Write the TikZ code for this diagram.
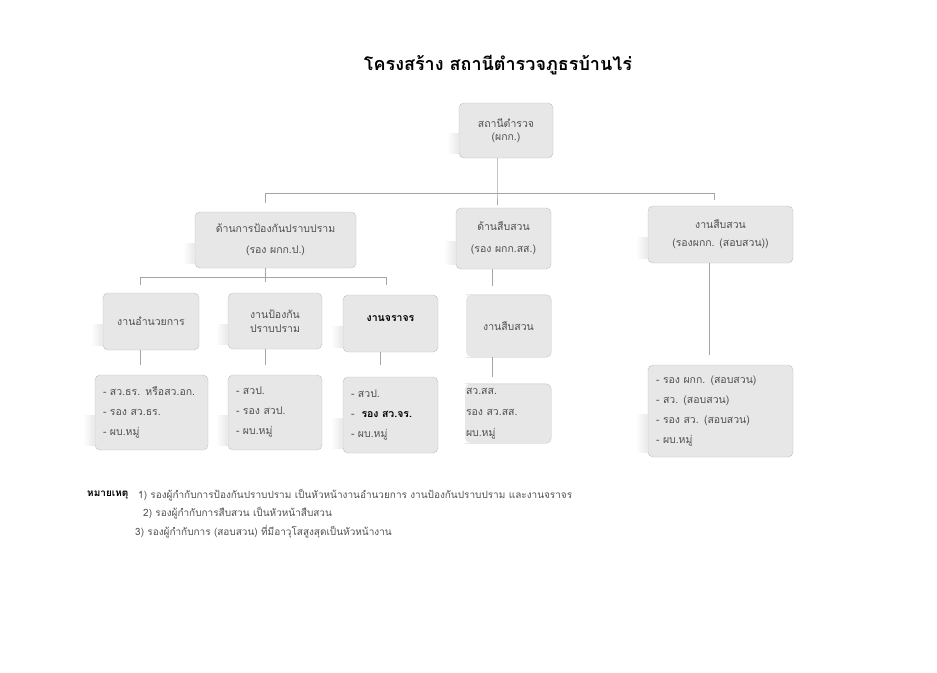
\documentclass[tikz,border=0pt]{standalone}
\usepackage{fontspec}
\setmainfont[Script=Thai]{Loma}
\definecolor{boxfill}{RGB}{231,231,231}
\definecolor{boxline}{RGB}{190,190,190}
\definecolor{linkline}{RGB}{165,165,165}
\definecolor{boxtext}{RGB}{80,80,80}
\definecolor{shadegray}{RGB}{232,232,232}
\tikzset{
  unitbox/.style={draw=boxline, fill=boxfill, rounded corners=5pt, align=center,
    text=boxtext, font=\fontsize{10.5}{13}\selectfont, inner sep=2pt},
  listbox/.style={unitbox, align=left, inner xsep=8pt},
  cutbox/.style={unitbox, draw=none},
  link/.style={draw=linkline, line width=0.9pt},
  notetext/.style={anchor=west, text=boxtext, font=\fontsize{10}{12}\selectfont, inner sep=0pt},
}
\newcommand{\leftshade}[1]{%
  \shade[left color=white, right color=shadegray]
    ([xshift=-12pt, yshift=5pt]#1.south west) rectangle ([yshift=-3pt]#1.west);}
\newcommand{\openedge}[1]{%
  \draw[boxline, rounded corners=5pt]
    (#1.north west) -- (#1.north east) -- (#1.south east) -- (#1.south west);}
\begin{document}
\begin{tikzpicture}[x=1pt, y=-1pt]
	\useasboundingbox (0,0) rectangle (937,672);

	% หัวเรื่อง
	\node (title) [font=\bfseries\fontsize{18}{21}\selectfont] at (498,65) {โครงสร้าง สถานีตำรวจภูธรบ้านไร่};

	% ชั้นที่ 1
	\node (root) [unitbox, minimum width=94, minimum height=55] at (506,130.5)
		{สถานีตำรวจ\\[0pt](ผกก.)};
	\leftshade{root}

	% ชั้นที่ 2
	\node (prevent) [unitbox, minimum width=161, minimum height=56] at (275.5,240)
		{ด้านการป้องกันปราบปราม\\[8pt](รอง ผกก.ป.)};
	\node (invest) [unitbox, minimum width=95, minimum height=61] at (503.5,238.5)
		{ด้านสืบสวน\\[9pt](รอง ผกก.สส.)};
	\node (inquiry) [unitbox, minimum width=145, minimum height=57] at (720.5,234.5)
		{งานสืบสวน\\[5pt](รองผกก. (สอบสวน))};
	\leftshade{prevent}
	\leftshade{invest}
	\leftshade{inquiry}

	% ชั้นที่ 3
	\node (admin) [unitbox, minimum width=96, minimum height=57] at (151,321.5) {งานอำนวยการ};
	\node (patrol) [unitbox, minimum width=94, minimum height=56] at (275,321)
		{งานป้องกัน\\[1pt]ปราบปราม};
	\node (traffic) [unitbox, minimum width=95, minimum height=57, text=black] at (390.5,323.5)
		{\raisebox{10pt}{\bfseries งานจราจร}};
	\node (investwork) [cutbox, minimum width=85, minimum height=62] at (508.5,326) {งานสืบสวน};
	\openedge{investwork}
	\leftshade{admin}
	\leftshade{patrol}
	\leftshade{traffic}

	% ชั้นที่ 4
	\node (adminlist) [listbox, text width=97, minimum height=75] at (151.5,412.5)
		{- สว.ธร. หรือสว.อก.\\[7pt]- รอง สว.ธร.\\[7pt]- ผบ.หมู่};
	\node (patrollist) [listbox, text width=78, minimum height=75] at (275,412.5)
		{- สวป.\\[7pt]- รอง สวป.\\[7pt]- ผบ.หมู่};
	\node (trafficlist) [listbox, text width=79, minimum height=76] at (390.5,415)
		{- สวป.\\[7pt]-~ {\color{black}\bfseries รอง สว.จร.}\\[7pt]- ผบ.หมู่};
	\node (investlist) [cutbox, align=left, inner xsep=1pt, text width=84, minimum height=59] at (508,413.5)
		{สว.สส.\\[8pt]รอง สว.สส.\\[8pt]ผบ.หมู่};
	\openedge{investlist}
	\node (inquirylist) [listbox, text width=129, minimum height=92] at (720.5,411)
		{- รอง ผกก. (สอบสวน)\\[7pt]- สว. (สอบสวน)\\[7pt]- รอง สว. (สอบสวน)\\[7pt]- ผบ.หมู่};
	\leftshade{adminlist}
	\leftshade{patrollist}
	\leftshade{trafficlist}
	\leftshade{inquirylist}

	% เส้นเชื่อมจากสถานี
	\coordinate (busmid) at (497,193);
	\coordinate (busleft) at (265,193);
	\coordinate (busright) at (714,193);
	\draw [link] (root.south -| busmid) -- (busmid) -- ++(0,12);
	\draw [link] (busleft) -- (busright);
	\draw [link] (busleft) -- ++(0,10);
	\draw [link] (busright) -- ++(0,7);

	% เส้นเชื่อมด้านป้องกันปราบปราม
	\coordinate (subleft) at (140,277);
	\coordinate (subright) at (386,277);
	\draw [link] (prevent.south -| busleft) -- ++(0,14);
	\draw [link] (subleft) -- (subright);
	\draw [link] (subleft) -- ++(0,8);
	\draw [link] (subright) -- ++(0,8);
	\draw [link] (admin.south -| subleft) -- ++(0,15);
	\draw [link] (patrol.south -| busleft) -- ++(0,16);
	\draw [link] ([xshift=-10pt]traffic.south) -- ++(0,13);

	% เส้นเชื่อมด้านสืบสวน
	\draw [link] ([xshift=-11pt]invest.south) -- ++(0,17);
	\draw [link] ([xshift=-16pt]investwork.south) -- ++(0,20);
	\draw [link] ([xshift=-11pt]inquiry.south) -- ++(0,92);

	% หมายเหตุ
	\node (notehead) [notetext, text=black, font=\bfseries\fontsize{10}{12}\selectfont] at (87,495) {หมายเหตุ};
	\node (noteone) [notetext] at (138,495)
		{1) รองผู้กำกับการป้องกันปราบปราม เป็นหัวหน้างานอำนวยการ งานป้องกันปราบปราม และงานจราจร};
	\node (notetwo) [notetext] at (143,513) {2) รองผู้กำกับการสืบสวน เป็นหัวหน้าสืบสวน};
	\node (notethree) [notetext] at (135,532) {3) รองผู้กำกับการ (สอบสวน) ที่มีอาวุโสสูงสุดเป็นหัวหน้างาน};
\end{tikzpicture}
\end{document}
